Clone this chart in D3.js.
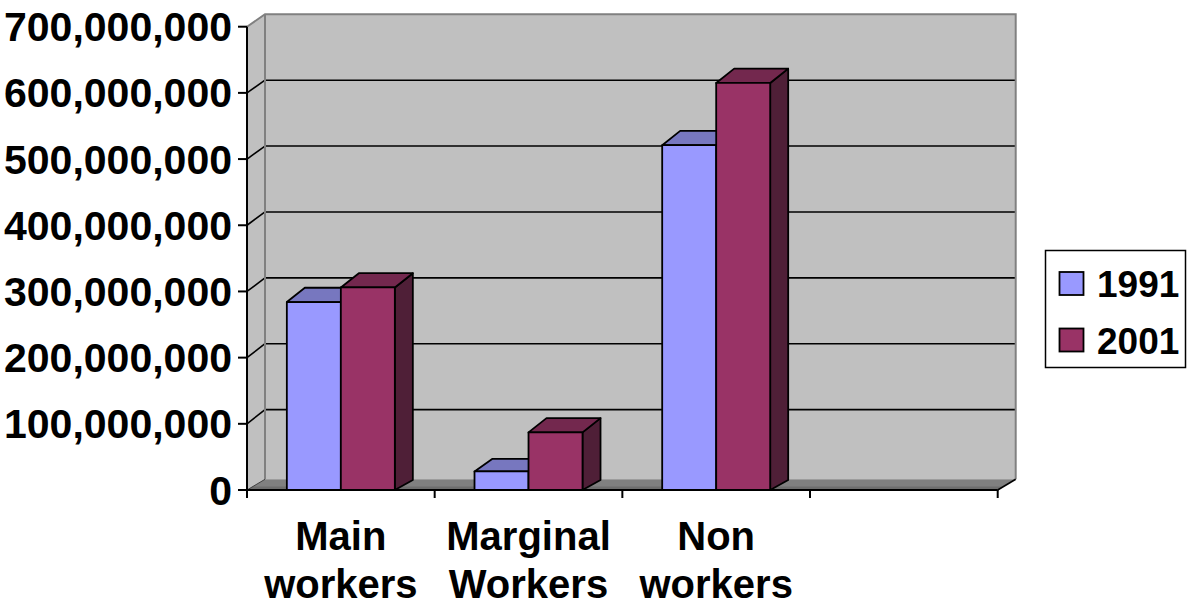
<!DOCTYPE html>
<html>
<head>
<meta charset="utf-8">
<script src="https://cdn.jsdelivr.net/npm/d3@7"></script>
<style>
  html, body { margin: 0; padding: 0; background: #ffffff; }
  svg { display: block; }
  text { font-family: "Liberation Sans", Arial, sans-serif; font-weight: bold; fill: #000; }
</style>
</head>
<body>
<svg id="chart" width="1198" height="606"></svg>
<script>
// Workers vs non-workers, 1991 and 2001 (3-D clustered columns)
const categories = ["Main workers", "Marginal Workers", "Non workers", ""];
const categoryLines = [["Main", "workers"], ["Marginal", "Workers"], ["Non", "workers"], []];
const seriesNames = ["1991", "2001"];
const values1991 = [284000000, 28000000, 521000000, null];
const values2001 = [306000000, 87000000, 615000000, null];
const yTickValues = [0, 100000000, 200000000, 300000000, 400000000, 500000000, 600000000, 700000000];

const colors = {
  "1991": { front: "#9999FF", top: "#7777BF", side: "#5C5C99" },
  "2001": { front: "#993366", top: "#73284E", side: "#4F1F37" }
};

const svg = d3.select("#chart");

// plot geometry
const frontLeft = 247, frontRight = 997.7;
const frontBottom = 490, frontTop = 26.7;
const wallDx = 18;
const backBottom = 475.5, backTop = 14.3, floorBack = 479.3;

const yFront = d3.scaleLinear().domain([0, 700000000]).range([frontBottom, frontTop]);
const yBack = d3.scaleLinear().domain([0, 700000000]).range([backBottom, backTop]);
const x0 = d3.scaleBand().domain(d3.range(categories.length)).range([frontLeft, frontRight]);
const groupW = 108;
const x1 = d3.scaleBand().domain(seriesNames).range([0, groupW]);

const poly = pts => pts.map(p => p.join(",")).join(" ");

// walls
const walls = svg.append("g");
walls.append("polygon")
  .attr("points", poly([[frontLeft + wallDx, backTop], [frontRight + wallDx, backTop],
                        [frontRight + wallDx, floorBack], [frontLeft + wallDx, floorBack]]))
  .attr("fill", "#C0C0C0");
walls.append("polygon")
  .attr("points", poly([[frontLeft, frontTop], [frontLeft + wallDx, backTop],
                        [frontLeft + wallDx, floorBack], [frontLeft, frontBottom]]))
  .attr("fill", "#C0C0C0");

// gridlines on back wall and side wall
const gridVals = yTickValues.filter(v => v > 0 && v < 700000000);
walls.selectAll("line.gb").data(gridVals).join("line")
  .attr("x1", frontLeft + wallDx).attr("x2", frontRight + wallDx)
  .attr("y1", d => yBack(d)).attr("y2", d => yBack(d))
  .attr("stroke", "#000").attr("stroke-width", 1.6);
walls.selectAll("line.gs").data(gridVals).join("line")
  .attr("x1", frontLeft).attr("x2", frontLeft + wallDx)
  .attr("y1", d => yFront(d)).attr("y2", d => yBack(d))
  .attr("stroke", "#000").attr("stroke-width", 1.6);

// wall borders
walls.append("polyline")
  .attr("points", poly([[frontLeft, frontTop], [frontLeft + wallDx, backTop],
                        [frontRight + wallDx, backTop], [frontRight + wallDx, floorBack]]))
  .attr("fill", "none").attr("stroke", "#808080").attr("stroke-width", 2);
walls.append("line")
  .attr("x1", frontLeft + wallDx).attr("x2", frontLeft + wallDx)
  .attr("y1", backTop).attr("y2", floorBack)
  .attr("stroke", "#808080").attr("stroke-width", 2);

// floor
walls.append("polygon")
  .attr("points", poly([[frontLeft, frontBottom], [frontLeft + wallDx, floorBack],
                        [frontRight + wallDx, floorBack], [frontRight, frontBottom]]))
  .attr("fill", "#808080");
walls.append("polygon")
  .attr("points", poly([[frontLeft + 6, frontBottom - 3.5], [frontRight + 6, frontBottom - 3.5],
                        [frontRight, frontBottom], [frontLeft, frontBottom]]))
  .attr("fill", "#6E6E6E");
walls.append("line")
  .attr("x1", frontRight).attr("y1", frontBottom)
  .attr("x2", frontRight + wallDx).attr("y2", floorBack)
  .attr("stroke", "#000").attr("stroke-width", 1.6);
walls.append("line")
  .attr("x1", frontLeft).attr("y1", frontBottom)
  .attr("x2", frontLeft + wallDx).attr("y2", floorBack)
  .attr("stroke", "#404040").attr("stroke-width", 1);

// bars
const barDx = 18;
const bars = svg.append("g").attr("stroke", "#000").attr("stroke-width", 1.8).attr("stroke-linejoin", "round");
const seriesValues = { "1991": values1991, "2001": values2001 };
categories.forEach((c, i) => {
  seriesNames.forEach(s => {
    const v = seriesValues[s][i];
    if (v == null) return;
    const xl = x0(i) + (x0.bandwidth() - groupW) / 2 + x1(s);
    const xr = xl + x1.bandwidth();
    const yt = yFront(v), yb = yFront(0);
    const h = yb - yt;
    const dyTop = -10 - 4.3 * Math.min(1, h / 30);
    const dyBot = -10;
    const col = colors[s];
    const g = bars.append("g");
    g.append("polygon")
      .attr("points", poly([[xr, yb], [xr + barDx, yb + dyBot], [xr + barDx, yt + dyTop], [xr, yt]]))
      .attr("fill", col.side);
    g.append("polygon")
      .attr("points", poly([[xl, yt], [xl + barDx, yt + dyTop], [xr + barDx, yt + dyTop], [xr, yt]]))
      .attr("fill", col.top);
    g.append("rect")
      .attr("x", xl).attr("y", yt).attr("width", xr - xl).attr("height", h)
      .attr("fill", col.front);
  });
});

// value axis
const axisG = svg.append("g");
axisG.append("line")
  .attr("x1", frontLeft).attr("x2", frontLeft).attr("y1", frontTop).attr("y2", frontBottom + 8)
  .attr("stroke", "#000").attr("stroke-width", 2);
axisG.selectAll("line.yt").data(yTickValues).join("line")
  .attr("x1", frontLeft - 9).attr("x2", frontLeft)
  .attr("y1", d => yFront(d)).attr("y2", d => yFront(d))
  .attr("stroke", "#000").attr("stroke-width", 2);
axisG.selectAll("text.yl").data(yTickValues).join("text")
  .attr("x", 232).attr("y", d => yFront(d) + 14.5)
  .attr("text-anchor", "end").attr("font-size", 41)
  .text(d => d3.format(",")(d));

// category axis
axisG.append("line")
  .attr("x1", frontLeft).attr("x2", frontRight).attr("y1", frontBottom).attr("y2", frontBottom)
  .attr("stroke", "#000").attr("stroke-width", 2);
const catTicks = d3.range(categories.length + 1).map(i => frontLeft + i * x0.bandwidth());
axisG.selectAll("line.xt").data(catTicks).join("line")
  .attr("x1", d => d).attr("x2", d => d).attr("y1", frontBottom).attr("y2", frontBottom + 8)
  .attr("stroke", "#000").attr("stroke-width", 2);
categories.forEach((c, i) => {
  const cx = x0(i) + x0.bandwidth() / 2;
  categoryLines[i].forEach((line, j) => {
    axisG.append("text")
      .attr("x", cx).attr("y", 550 + j * 48)
      .attr("text-anchor", "middle").attr("font-size", 40)
      .text(line);
  });
});

// legend
const lg = svg.append("g");
lg.append("rect").attr("x", 1045.5).attr("y", 250.5).attr("width", 140).attr("height", 117)
  .attr("fill", "#fff").attr("stroke", "#000").attr("stroke-width", 1.5);
seriesNames.forEach((s, i) => {
  const y = 272 + i * 56.5;
  lg.append("rect").attr("x", 1059.5).attr("y", y).attr("width", 24).attr("height", 23)
    .attr("fill", colors[s].front).attr("stroke", "#000").attr("stroke-width", 1.8);
  lg.append("text").attr("x", 1097).attr("y", y + 25).attr("font-size", 37).text(s);
});
</script>
</body>
</html>
